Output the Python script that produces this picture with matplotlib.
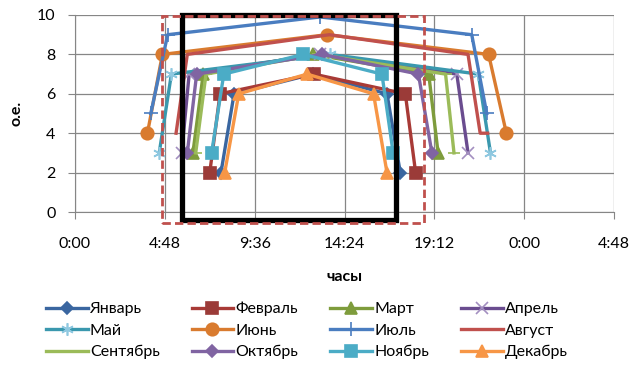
import matplotlib.pyplot as plt
from matplotlib.patches import Rectangle

plt.rcParams['font.family'] = ['Lato', 'Open Sans', 'DejaVu Sans']

# Load profiles by month: hours of day and relative units
months = ['Январь', 'Февраль', 'Март', 'Апрель', 'Май', 'Июнь',
          'Июль', 'Август', 'Сентябрь', 'Октябрь', 'Ноябрь', 'Декабрь']

jan_h = [7.8, 8.5, 12.7, 16.67, 17.38]
jan_v = [2, 6, 7, 6, 2]
feb_h = [7.2, 7.75, 12.75, 17.65, 18.2]
feb_v = [2, 6, 7, 6, 2]
mar_h = [6.3, 6.85, 12.7, 18.9, 19.4]
mar_v = [3, 7, 8, 7, 3]
apr_h = [5.7, 6.1, 13.1, 20.4, 21.0]
apr_v = [3, 7, 8, 7, 3]
may_h = [4.5, 5.15, 13.6, 21.55, 22.2]
may_v = [3, 7, 8, 7, 3]
jun_h = [3.87, 4.67, 13.46, 22.1, 23.05]
jun_v = [4, 8, 9, 8, 4]
jul_h = [4.05, 4.95, 13.1, 21.2, 22.0]
jul_v = [5, 9, 9.9, 9, 5]
aug_h = [5.4, 6.0, 13.6, 21.0, 21.65, 22.05]
aug_v = [4, 8, 9, 8, 4, 4]
sep_h = [6.45, 7.0, 13.0, 19.8, 20.25]
sep_v = [3, 7, 8, 7, 3]
oct_h = [6.0, 6.5, 13.2, 18.35, 19.07]
oct_v = [3, 7, 8, 7, 3]
nov_h = [7.3, 7.95, 12.2, 16.4, 17.0]
nov_v = [3, 7, 8, 7, 3]
dec_h = [8.0, 8.75, 12.4, 15.95, 16.67]
dec_v = [2, 6, 7, 6, 2]

hours = [jan_h, feb_h, mar_h, apr_h, may_h, jun_h,
         jul_h, aug_h, sep_h, oct_h, nov_h, dec_h]
values = [jan_v, feb_v, mar_v, apr_v, may_v, jun_v,
          jul_v, aug_v, sep_v, oct_v, nov_v, dec_v]

colors = ['#3A66A0', '#A83A36', '#7E9C3C', '#6A4C8F', '#3A98AE', '#D97B2F',
          '#4A7DC0', '#C0504D', '#9BBB59', '#8064A2', '#4BACC6', '#F79646']
mcolors = ['#3A66A0', '#9B3B38', '#7E9C3C', '#A38FC0', '#8FC8E0', '#D97B2F',
           '#4A7DC0', '#C0504D', '#9BBB59', '#8064A2', '#4BACC6', '#F79646']
markers = ['D', 's', '^', 'x', (6, 2, 0), 'o', '+', 'None', '_', 'D', 's', '^']
msizes = [6, 8, 8, 8, 9, 9, 10, 0, 9, 6, 8, 8]

fig = plt.figure(figsize=(6.32, 3.70), dpi=100)
ax = fig.add_axes([75 / 632, 1 - 212 / 370, 539 / 632, 197 / 370])

lines = []
for name, h, v, c, mc, m, ms in zip(months, hours, values, colors, mcolors, markers, msizes):
    ln, = ax.plot(h, v, color=c, lw=2.4, marker=m, markersize=ms,
                  markerfacecolor=mc, markeredgecolor=mc, markeredgewidth=1.2,
                  label=name, zorder=3)
    lines.append(ln)

# highlighted time windows
ax.add_patch(Rectangle((5.72, -0.4), 17.15 - 5.72, 10.4, fill=False,
                       edgecolor='black', lw=3.8, clip_on=False, zorder=5))
ax.add_patch(Rectangle((4.65, -0.57), 18.63 - 4.65, 10.52, fill=False,
                       edgecolor='#C0504D', lw=2.0, ls=(0, (3, 1.5)),
                       clip_on=False, zorder=6))

xt = [0, 4.8, 9.6, 14.4, 19.2, 24.0, 28.8]
xlabels = ['%d:%02d' % (int(t) % 24, round((t % 1) * 60)) for t in xt]
ax.set_xticks(xt)
ax.set_xticklabels(xlabels)
ax.set_xlim(0, 28.8)
ax.set_ylim(0, 10)
ax.set_yticks(range(0, 11, 2))

ax.grid(True, color='#868686', lw=0.9)
ax.set_axisbelow(True)
for s in ['top', 'right']:
    ax.spines[s].set_visible(False)
for s in ['left', 'bottom']:
    ax.spines[s].set_color('#868686')
ax.tick_params(colors='#868686', labelcolor='black', labelsize=11.5, length=5)
ax.tick_params(axis='x', pad=13)
ax.tick_params(axis='y', pad=9)

ax.set_xlabel('часы', fontsize=11.5, fontweight='bold', labelpad=14)
ax.set_ylabel('о.е.', fontsize=11.5, fontweight='bold', labelpad=10)

# legend laid out row by row
order = [0, 4, 8, 1, 5, 9, 2, 6, 10, 3, 7, 11]
fig.legend([lines[i] for i in order], [months[i] for i in order],
           ncol=4, loc='upper left', bbox_to_anchor=(38 / 632, 1 - 294 / 370),
           frameon=False, fontsize=11.5, handlelength=2.6, handletextpad=0.15,
           columnspacing=2.0, labelspacing=0.45, borderpad=0)

fig.savefig('out.png', dpi=100)
